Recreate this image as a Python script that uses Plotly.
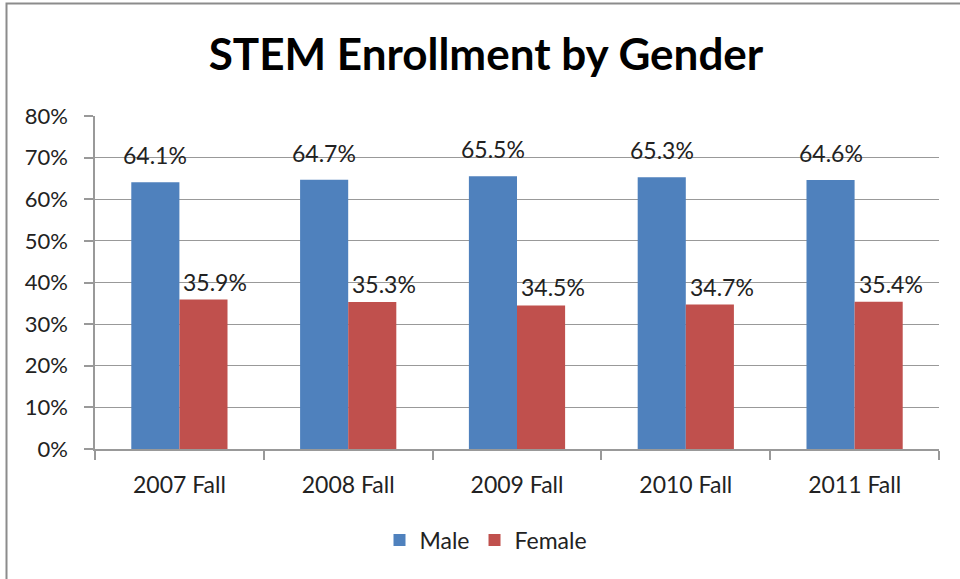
import plotly.graph_objects as go

categories = ["2007 Fall", "2008 Fall", "2009 Fall", "2010 Fall", "2011 Fall"]
male = [64.1, 64.7, 65.5, 65.3, 64.6]
female = [35.9, 35.3, 34.5, 34.7, 35.4]
y_ticks = [0, 10, 20, 30, 40, 50, 60, 70, 80]
y_tick_labels = [f"{v}%" for v in y_ticks]

FONT = "Lato"
MALE_C = "#4F81BD"
FEMALE_C = "#C0504D"
TXT = "#222"

fig = go.Figure()
fig.add_trace(go.Bar(x=categories, y=male, name="Male", marker=dict(color=MALE_C, line=dict(width=0))))
fig.add_trace(go.Bar(x=categories, y=female, name="Female", marker=dict(color=FEMALE_C, line=dict(width=0))))

annotations = []
for c, v in zip(categories, male):
    annotations.append(dict(x=c, y=v, xref="x", yref="y", text=f"{v}%", showarrow=False,
                            xshift=-24, yshift=27, font=dict(family=FONT, size=23, color=TXT)))
for c, v in zip(categories, female):
    annotations.append(dict(x=c, y=v, xref="x", yref="y", text=f"{v}%", showarrow=False,
                            xshift=36, yshift=18, font=dict(family=FONT, size=23, color=TXT)))

L, R, T, B = 95, 21, 116, 130
PW, PH = 960 - L - R, 579 - T - B

fig.update_layout(
    width=960, height=579,
    margin=dict(l=L, r=R, t=T, b=B, pad=0),
    paper_bgcolor="white", plot_bgcolor="white",
    barmode="group", bargap=0.43, bargroupgap=0,
    title=dict(text="<b>STEM Enrollment by Gender</b>", x=486 / 960, xanchor="center",
               y=1 - 55 / 579, yanchor="middle", font=dict(family=FONT, size=44, color="black")),
    font=dict(family=FONT, size=22, color=TXT),
    showlegend=True,
    legend=dict(orientation="h", x=(486 - L) / PW, xanchor="center",
                y=-(540 - (579 - B)) / PH, yanchor="middle", font=dict(family=FONT, size=23, color=TXT),
                traceorder="normal"),
    annotations=annotations,
    shapes=[dict(type="rect", xref="paper", yref="paper",
                 x0=(6.5 - L) / PW, x1=(990 - L) / PW,
                 y0=-(620 - (579 - B)) / PH, y1=((579 - B) - 3.5) / PH,
                 line=dict(color="#8c8c8c", width=2), fillcolor="rgba(0,0,0,0)", layer="below")],
)
fig.update_xaxes(showline=True, linecolor="#999", linewidth=1.5, ticks="outside", tickson="boundaries",
                 ticklen=9, tickcolor="#999", tickwidth=1.5, showgrid=False, ticklabelstandoff=15,
                 tickfont=dict(family=FONT, size=23, color=TXT))
fig.update_yaxes(range=[0, 80], tickvals=y_ticks, ticktext=y_tick_labels, showline=True, linecolor="#999",
                 linewidth=1.5, ticks="outside", ticklen=9, tickcolor="#999", tickwidth=1.5,
                 showgrid=True, gridcolor="#999", gridwidth=1.2, zeroline=False, ticklabelstandoff=12,
                 tickfont=dict(family=FONT, size=22, color=TXT))

fig.write_html("out.html", config={"displayModeBar": False},
               post_script="document.body.style.margin='0';")
